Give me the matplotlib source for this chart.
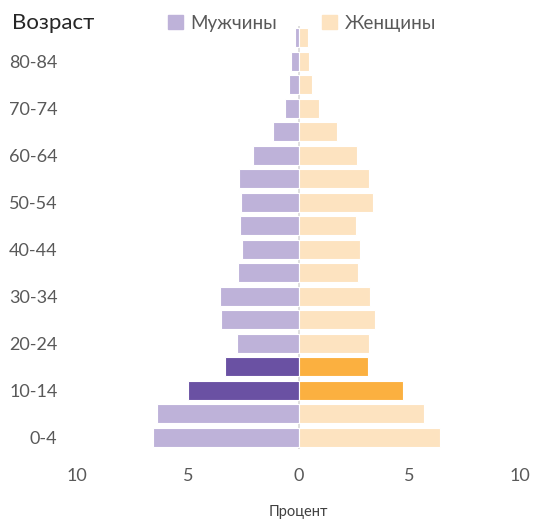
import numpy as np
import matplotlib
matplotlib.use("Agg")
import matplotlib.pyplot as plt
from matplotlib.patches import Patch

plt.rcParams['font.family'] = ['Lato', 'DejaVu Sans']

age_groups = ["0-4", "5-9", "10-14", "15-19", "20-24", "25-29", "30-34", "35-39",
              "40-44", "45-49", "50-54", "55-59", "60-64", "65-69", "70-74",
              "75-79", "80-84", "85+"]
male = [6.55, 6.41, 4.99, 3.32, 2.76, 3.50, 3.54, 2.71, 2.55, 2.64, 2.59, 2.67,
        2.07, 1.14, 0.60, 0.43, 0.34, 0.15]
female = [6.37, 5.66, 4.74, 3.15, 3.20, 3.45, 3.23, 2.67, 2.79, 2.59, 3.36, 3.20,
          2.64, 1.75, 0.94, 0.63, 0.46, 0.43]
highlight = ["10-14", "15-19"]
x_ticks = [-10, -5, 0, 5, 10]
x_ticklabels = ["10", "5", "0", "5", "10"]

male_color = "#BEB2D9"
male_hl = "#6A51A3"
female_color = "#FDE3C0"
female_hl = "#FBB040"
text_gray = "#595959"

fig = plt.figure(figsize=(5.33, 5.19), dpi=100)
ax = fig.add_axes([77 / 533, 1 - 449 / 519, (520 - 77) / 533, (449 - 26) / 519])

y = np.arange(len(age_groups))
mc = [male_hl if a in highlight else male_color for a in age_groups]
fc = [female_hl if a in highlight else female_color for a in age_groups]
ax.barh(y, [-m for m in male], height=0.8, color=mc, edgecolor="white", linewidth=0.8)
ax.barh(y, female, height=0.8, color=fc, edgecolor="white", linewidth=0.8)
ax.axvline(0, color="#D9D9D9", linewidth=1.2, zorder=0.5)

ax.set_xlim(-10, 10)
ax.set_ylim(-0.5, len(age_groups) - 0.5)
ax.set_xticks(x_ticks)
ax.set_xticklabels(x_ticklabels)
ax.set_yticks(y[::2])
ax.set_yticklabels(age_groups[::2])
ax.tick_params(length=0, colors=text_gray, labelsize=13)
ax.tick_params(axis="x", pad=14)
ax.tick_params(axis="y", pad=14)
for s in ax.spines.values():
    s.set_visible(False)

ax.set_xlabel("Процент", color="#404040", fontsize=10.5, labelpad=15)

fig.text(12 / 533, 1 - 23 / 519, "Возраст", fontsize=16, color="#262626",
         va="center", ha="left")
handles = [Patch(color=male_color, label="Мужчины"),
           Patch(color=female_color, label="Женщины")]
fig.legend(handles=handles, loc="center", bbox_to_anchor=(302 / 533, 1 - 23 / 519),
           ncol=2, frameon=False, fontsize=13.5, handlelength=0.8, handleheight=0.8,
           handletextpad=0.4, columnspacing=2.4, labelcolor=text_gray)

fig.savefig("out.png", dpi=100)
